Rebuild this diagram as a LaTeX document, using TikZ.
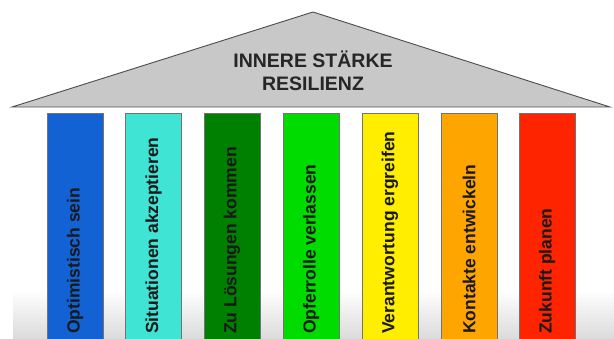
\documentclass[tikz,border=0pt]{standalone}
\usepackage{fontspec}
\setmainfont{Liberation Sans}
\definecolor{dachgrau}{RGB}{200,200,200}
\definecolor{saeuleeins}{RGB}{18,98,212}
\definecolor{saeulezwei}{RGB}{64,228,212}
\definecolor{saeuledrei}{RGB}{0,128,0}
\definecolor{saeulevier}{RGB}{0,220,0}
\definecolor{saeulefuenf}{RGB}{255,238,0}
\definecolor{saeulesechs}{RGB}{255,165,0}
\definecolor{saeulesieben}{RGB}{255,36,0}
\begin{document}
\begin{tikzpicture}[x=1pt,y=1pt]
    \tikzstyle{every node}+=[inner sep=0pt]
    \tikzstyle{saeule}=[draw=black!55, line width=0.8pt]
    \tikzstyle{saeulentext}=[rotate=90, anchor=west, font=\bfseries\fontsize{17.5}{18}\selectfont, text=black!90]
    \useasboundingbox (0,0) rectangle (614,338);
    \fill [white] (0,0) rectangle (614,338);
    \shade [top color=white, bottom color=black!14] (13,0) rectangle (614,48);
    % Dach
    \draw [black!70, line width=0.9pt, fill=dachgrau] (12,231) -- (313,326) -- (610,231) -- cycle;
    \node [align=center, font=\bfseries\fontsize{19.5}{23}\selectfont, text=black!85] (dach) at (313,267) {INNERE STÄRKE\\RESILIENZ};
    % Saeulen
    \foreach \x/\farbe/\name/\txt in {75/saeuleeins/s1/Optimistisch sein,
                                  153.5/saeulezwei/s2/Situationen akzeptieren,
                                  232/saeuledrei/s3/Zu Lösungen kommen,
                                  311/saeulevier/s4/Opferrolle verlassen,
                                  390/saeulefuenf/s5/Verantwortung ergreifen,
                                  469/saeulesechs/s6/Kontakte entwickeln,
                                  547/saeulesieben/s7/Zukunft planen} {
        \draw [saeule, fill=\farbe] (\x-28,-2) rectangle (\x+28,225);
        \node [saeulentext] (\name) at (\x,4) {\txt};
    }
\end{tikzpicture}
\end{document}
